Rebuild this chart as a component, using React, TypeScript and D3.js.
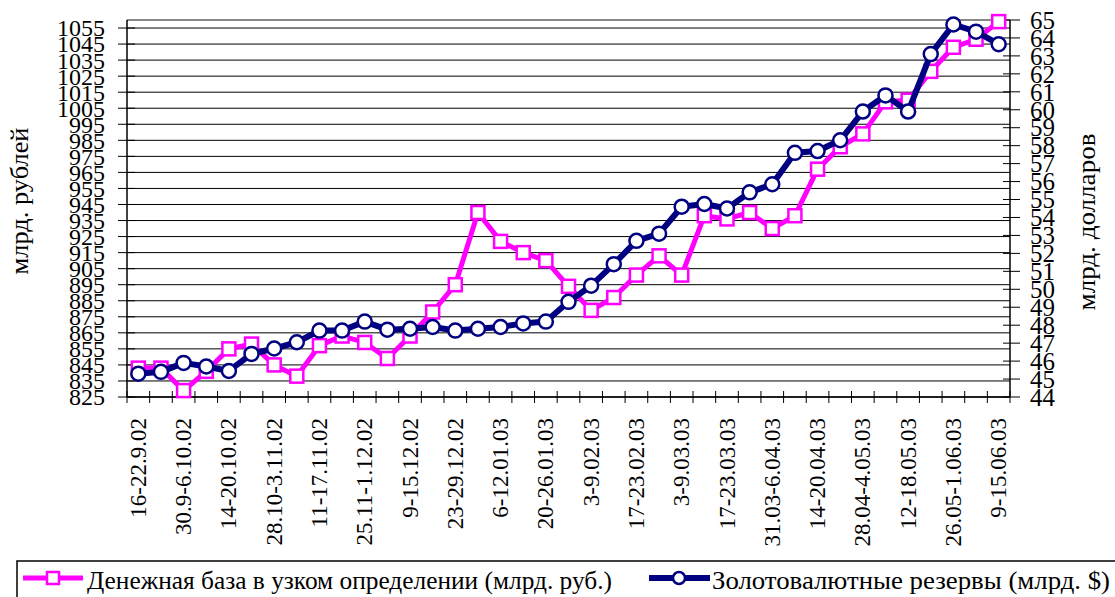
import { useMemo } from 'react';
import * as d3 from 'd3';

// weekly periods, Sep 2002 - Jun 2003
const weeks = [
    '16-22.9.02', '23-29.9.02', '30.9-6.10.02', '7-13.10.02', '14-20.10.02', '21-27.10.02',
    '28.10-3.11.02', '4-10.11.02', '11-17.11.02', '18-24.11.02', '25.11-1.12.02', '2-8.12.02',
    '9-15.12.02', '16-22.12.02', '23-29.12.02', '30.12-5.01.03', '6-12.01.03', '13-19.01.03',
    '20-26.01.03', '27.01-2.02.03', '3-9.02.03', '10-16.02.03', '17-23.02.03', '24.02-2.03.03',
    '3-9.03.03', '10-16.03.03', '17-23.03.03', '24-30.03.03', '31.03-6.04.03', '7-13.04.03',
    '14-20.04.03', '21-27.04.03', '28.04-4.05.03', '5-11.05.03', '12-18.05.03', '19-25.05.03',
    '26.05-1.06.03', '2-8.06.03', '9-15.06.03',
];

// денежная база, млрд. руб. (left axis)
const moneyBase = [
    843, 843, 829, 841, 855, 858, 845, 838, 857, 863, 859, 849, 863, 878, 895, 940,
    922, 915, 910, 894, 879, 887, 901, 913, 901, 938, 936, 940, 930, 938, 967, 981,
    989, 1009, 1010, 1028, 1043, 1048, 1059,
];

// золотовалютные резервы, млрд. $ (right axis)
const reserves = [
    45.3, 45.4, 45.9, 45.7, 45.45, 46.4, 46.7, 47.05, 47.7, 47.7, 48.2, 47.75, 47.8,
    47.9, 47.7, 47.8, 47.9, 48.1, 48.2, 49.3, 50.2, 51.4, 52.7, 53.1, 54.6, 54.75,
    54.5, 55.4, 55.85, 57.6, 57.7, 58.3, 59.9, 60.8, 59.9, 63.1, 64.75, 64.35, 63.65,
];

const leftTicks = d3.range(825, 1056, 10);
const rightTicks = d3.range(44, 66, 1);

const seriesNames = [
    'Денежная база в узком определении (млрд. руб.)',
    'Золотовалютные резервы (млрд. $)',
];

const W = 1115;
const H = 597;
const marginLeft = 127;
const marginRight = 105;
const marginTop = 20;
const plotBottom = 397;

const PINK = '#ff00ff';
const NAVY = '#000080';
const serif = { fontFamily: "'Liberation Serif'" };

export default function App() {
    const { x, yL, yR, pinkPath, navyPath } = useMemo(() => {
        const x = d3.scaleBand<string>()
            .domain(weeks)
            .range([marginLeft, W - marginRight]);

        const yL = d3.scaleLinear().domain([825, 1060]).range([plotBottom, marginTop]);
        const yR = d3.scaleLinear().domain([44, 65]).range([plotBottom, marginTop]);

        const cx = (i: number) => (x(weeks[i]) ?? 0) + x.bandwidth() / 2;

        const pinkPath = d3.line<number>().x((_, i) => cx(i)).y((d) => yL(d))(moneyBase) || '';
        const navyPath = d3.line<number>().x((_, i) => cx(i)).y((d) => yR(d))(reserves) || '';

        return { x, yL, yR, pinkPath, navyPath };
    }, []);

    const cx = (i: number) => (x(weeks[i]) ?? 0) + x.bandwidth() / 2;
    const right = W - marginRight;
    const sq = 13;

    return (
        <svg width={W} height={H} style={{ position: 'absolute', left: 0, top: 0, background: 'white' }}>
            {/* gridlines */}
            <g>
                {leftTicks.map((t) => (
                    <line key={t} x1={marginLeft} x2={right} y1={yL(t)} y2={yL(t)} stroke="#000" strokeWidth={1} />
                ))}
            </g>
            {/* frame */}
            <line x1={marginLeft} x2={right} y1={marginTop} y2={marginTop} stroke="#888" strokeWidth={2} />
            <line x1={marginLeft} x2={marginLeft} y1={marginTop} y2={plotBottom} stroke="#000" strokeWidth={1.5} />
            <line x1={right} x2={right} y1={marginTop} y2={plotBottom} stroke="#000" strokeWidth={1.5} />
            <line x1={marginLeft} x2={right} y1={plotBottom} y2={plotBottom} stroke="#000" strokeWidth={1.5} />

            {/* left axis */}
            <g>
                {leftTicks.map((t) => (
                    <g key={t}>
                        <line x1={marginLeft - 9} x2={marginLeft + 8} y1={yL(t)} y2={yL(t)} stroke="#000" />
                        <text x={105} y={yL(t)} dy="0.35em" textAnchor="end" fontSize={24} style={serif}>{t}</text>
                    </g>
                ))}
            </g>
            {/* right axis */}
            <g>
                {rightTicks.map((t) => (
                    <g key={t}>
                        <line x1={right - 7} x2={right + 10} y1={yR(t)} y2={yR(t)} stroke="#000" />
                        <text x={1030} y={yR(t)} dy="0.35em" textAnchor="start" fontSize={25} style={serif}>{t}</text>
                    </g>
                ))}
            </g>
            {/* category axis */}
            <g>
                {[...weeks, ''].map((w, i) => {
                    const xt = marginLeft + i * x.step();
                    return <line key={i} x1={xt} x2={xt} y1={plotBottom - 6} y2={plotBottom + 6} stroke="#000" />;
                })}
                {weeks.map((w, i) => i % 2 === 0 && (
                    <text key={w} transform={`translate(${cx(i)},418) rotate(-90)`} dy="0.33em" textAnchor="end" fontSize={23} style={serif}>{w}</text>
                ))}
            </g>

            {/* axis titles */}
            <text transform="translate(20,201) rotate(-90)" textAnchor="middle" dy="0.33em" fontSize={25} textLength={147} lengthAdjust="spacingAndGlyphs" style={serif}>млрд. рублей</text>
            <text transform="translate(1087,222) rotate(-90)" textAnchor="middle" dy="0.33em" fontSize={25} textLength={177} lengthAdjust="spacingAndGlyphs" style={serif}>млрд. долларов</text>

            {/* series */}
            <path d={pinkPath} fill="none" stroke={PINK} strokeWidth={5} strokeLinejoin="round" />
            {moneyBase.map((d, i) => (
                <rect key={i} x={cx(i) - sq / 2} y={yL(d) - sq / 2} width={sq} height={sq} fill="white" stroke={PINK} strokeWidth={2.5} />
            ))}
            <path d={navyPath} fill="none" stroke={NAVY} strokeWidth={6} strokeLinejoin="round" />
            {reserves.map((d, i) => (
                <circle key={i} cx={cx(i)} cy={yR(d)} r={7} fill="white" stroke={NAVY} strokeWidth={2.5} />
            ))}

            {/* legend */}
            <rect x={17} y={561} width={1200} height={60} fill="none" stroke="#000" strokeWidth={1.5} />
            <line x1={23} x2={83} y1={578} y2={578} stroke={PINK} strokeWidth={5} />
            <rect x={53 - 6} y={578 - 6} width={12} height={12} fill="white" stroke={PINK} strokeWidth={2.5} />
            <text x={87} y={589} fontSize={25} textLength={525} lengthAdjust="spacingAndGlyphs" style={serif}>{seriesNames[0]}</text>
            <line x1={649} x2={710} y1={578} y2={578} stroke={NAVY} strokeWidth={6} />
            <circle cx={679} cy={578} r={6} fill="white" stroke={NAVY} strokeWidth={2.5} />
            <text x={712} y={589} fontSize={25} textLength={398} lengthAdjust="spacingAndGlyphs" style={serif}>{seriesNames[1]}</text>
        </svg>
    );
}
